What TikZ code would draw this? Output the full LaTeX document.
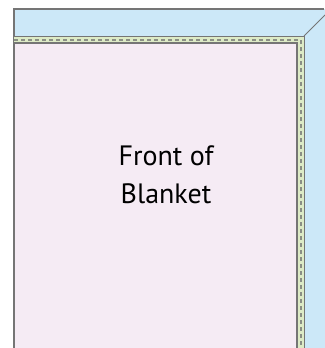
\documentclass[tikz,border=0pt]{standalone}
\usepackage{fontspec}
\setmainfont{PT Sans}
\definecolor{skyblue}{HTML}{CCE8F8}
\definecolor{stripgreen}{HTML}{DDEBC6}
\definecolor{frontpink}{HTML}{F5EBF4}
\definecolor{edgegrey}{HTML}{757575}
\definecolor{seamgrey}{HTML}{8A8F85}
\begin{document}
\begin{tikzpicture}[x=1pt,y=-1pt,
  edge/.style={draw=edgegrey,line width=1.3pt},
  seam/.style={draw=seamgrey,line width=2pt,dash pattern=on 4pt off 3pt}]
\useasboundingbox (0,0) rectangle (324,348);
% backing (blue)
\fill[skyblue] (14,9) rectangle (326,350);
\draw[edge] (324,9) -- (14,9) -- (14,350);
% binding strip (green)
\fill[stripgreen] (14,36) -- (304,36) -- (304,350) -- (297,350) -- (297,43) -- (14,43) -- cycle;
\draw[draw=edgegrey,line width=0.9pt] (14,36) -- (304,36) -- (304,350);
\draw[seam] (14,39.5) -- (300.5,39.5) -- (300.5,350);
\draw[draw=edgegrey,line width=0.9pt] (304,36) -- (325,15);
% front (pink)
\fill[frontpink] (14,43) rectangle (297,350);
\draw[edge,line width=1.8pt] (14,350) -- (14,43) -- (297,43) -- (297,350);
\node[font=\fontsize{28}{38}\selectfont,align=center,text=black] (label) at (166,175) {Front of\\Blanket};
\end{tikzpicture}
\end{document}
